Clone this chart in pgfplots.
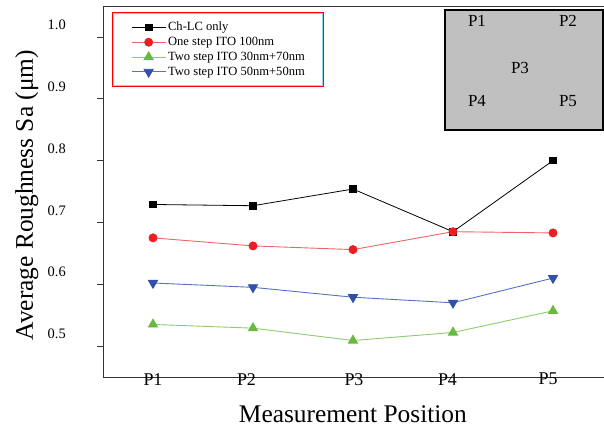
\documentclass[border=0pt]{standalone}
\usepackage{pgfplots}
\pgfplotsset{compat=1.18}
\usepackage{fontspec}
\setmainfont{Liberation Serif}
\definecolor{lred}{RGB}{240,100,100}
\definecolor{mred}{RGB}{235,30,35}
\definecolor{lgreen}{RGB}{140,205,110}
\definecolor{mgreen}{RGB}{105,185,65}
\definecolor{lblue}{RGB}{85,115,195}
\definecolor{mblue}{RGB}{50,80,170}
\definecolor{insetgray}{RGB}{192,192,192}
\definecolor{lcyan}{RGB}{150,210,230}
\begin{document}
\begin{tikzpicture}
\path[use as bounding box] (-103bp,-50bp) rectangle (501bp,377bp);
\begin{axis}[
  at={(0,0)}, anchor=south west,
  scale only axis, width=510bp, height=371bp,
  xmin=0.5, xmax=5.6, ymin=0.45, ymax=1.05,
  xtick={1,1.935,3.01,3.945,4.95}, xticklabels={P1,P2,P3,P4,P5},
  ytick={0.5,0.6,0.7,0.8,0.9,1.0},
  yticklabels={0.5,0.6,0.7,0.8,0.9,1.0},
  xtick pos=bottom, ytick pos=left,
  tick align=outside, major tick length=6bp,
  xtick style={draw=none},
  axis line style={line width=0.8bp, black!80},
  ytick style={line width=0.8bp, black!80},
  xticklabel style={font=\fontsize{18}{20}\selectfont, anchor=north, inner sep=0pt, yshift=10bp},
  yticklabel style={font=\fontsize{14.5}{16}\selectfont, anchor=east, inner sep=0pt, xshift=-31bp, yshift=12bp},
  every axis x label/.style={at={(axis description cs:0.49,0)}, anchor=north, inner sep=0pt, yshift=-28bp, font=\fontsize{25.5}{28}\selectfont},
  every axis y label/.style={at={(axis description cs:-0.1725,0.49)}, rotate=90, anchor=north, inner sep=0pt, font=\fontsize{25.5}{28}\selectfont},
  xlabel={Measurement Position},
  ylabel={Average Roughness Sa (μm)},
  legend cell align=left,
  legend image code/.code={\draw[mark repeat=2,mark phase=2] plot coordinates {(0bp,0bp) (17bp,0bp) (34bp,0bp)};},
  legend style={at={(axis description cs:0.0314,0.9732)}, anchor=north west,
    font=\fontsize{12.6}{14}\selectfont,
    draw=none, fill=none,
    inner xsep=12bp, inner ysep=4bp, row sep=1bp,
    /tikz/every even column/.append style={column sep=2bp}},
]
\draw[fill=white, draw=red, line width=1bp] (axis description cs:0.01765,0.7817) rectangle (axis description cs:0.4314,0.9838);
\draw[draw=lcyan, line width=0.8bp] ([xshift=1.1bp,yshift=1.1bp]axis description cs:0.01765,0.7817) rectangle ([xshift=-1.1bp,yshift=-1.1bp]axis description cs:0.4314,0.9838);
\addplot[black, line width=0.8bp, mark=square*, mark size=3.3bp, mark options={solid, fill=black}]
  coordinates {(1,0.729) (2,0.727) (3,0.754) (4,0.685) (5,0.800)};
\addlegendentry{Ch-LC only}
\addplot[lred, line width=0.9bp, mark=*, mark size=4bp, mark options={solid, draw=mred, fill=mred}]
  coordinates {(1,0.675) (2,0.662) (3,0.656) (4,0.685) (5,0.683)};
\addlegendentry{One step ITO 100nm}
\addplot[lgreen, line width=0.9bp, mark=triangle*, mark size=5.2bp, mark options={solid, draw=mgreen, fill=mgreen}]
  coordinates {(1,0.535) (2,0.529) (3,0.509) (4,0.522) (5,0.557)};
\addlegendentry{Two step ITO 30nm+70nm}
\addplot[lblue, line width=0.9bp, mark=triangle*, mark size=5.2bp, mark options={solid, rotate=180, draw=mblue, fill=mblue}]
  coordinates {(1,0.602) (2,0.595) (3,0.579) (4,0.570) (5,0.610)};
\addlegendentry{Two step ITO 50nm+50nm}
\draw[fill=insetgray, line width=1.6bp] (axis description cs:0.6706,0.6658) rectangle (axis description cs:0.9804,0.9892);
\begin{scope}[font=\fontsize{17}{19}\selectfont]
\node at (axis description cs:0.7333,0.9596) {P1};
\node at (axis description cs:0.9118,0.9596) {P2};
\node at (axis description cs:0.8176,0.8329) {P3};
\node at (axis description cs:0.7333,0.7439) {P4};
\node at (axis description cs:0.9118,0.7439) {P5};
\end{scope}
\end{axis}
\end{tikzpicture}
\end{document}
